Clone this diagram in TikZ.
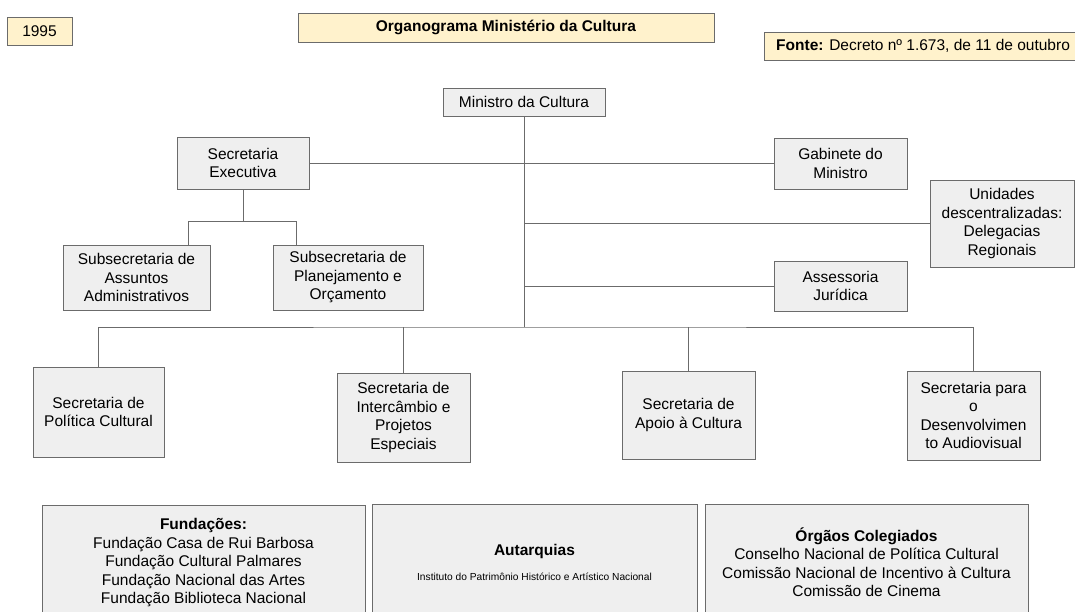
\documentclass[tikz,border=0pt]{standalone}
\usepackage{fontspec}
\setmainfont{Liberation Sans}
\usepackage{xcolor}
\usepackage{tikz}
\usetikzlibrary{positioning}

\definecolor{boxfill}{HTML}{EFEFEF}
\definecolor{boxline}{HTML}{6B6B6B}
\definecolor{tagfill}{HTML}{FFF2CC}
\newcommand\orgfont{\fontsize{15.5}{18.5}\selectfont}

\begin{document}
\begin{tikzpicture}[
    x=1pt, y=-1pt,
    box/.style={rectangle, draw=boxline, fill=boxfill, align=center,
                inner sep=0pt, font=\orgfont},
    tag/.style={rectangle, draw=boxline, fill=tagfill, align=center,
                inner sep=0pt, font=\orgfont},
    link/.style={draw=boxline, line width=0.9pt}
]
\useasboundingbox (0,0) rectangle (1075,612);

% header
\node[tag, minimum width=65pt, minimum height=28pt] (ano) at (39.5,31) {1995};
\node[tag, minimum width=416pt, minimum height=29pt] (titulo) at (506,27.5) {\textbf{Organograma Ministério da Cultura}};
\node[tag, anchor=west, inner xsep=12pt, minimum height=28pt] (fonte) at (764,46) {\textbf{Fonte:} Decreto nº 1.673, de 11 de outubro};

% ministro and staff
\node[box, minimum width=162pt, minimum height=28pt] (min) at (524,102) {Ministro da Cultura};
\node[box, minimum width=132pt, minimum height=52pt] (secexec) at (243,163) {Secretaria\\Executiva};
\node[box, minimum width=133pt, minimum height=51pt] (gab) at (840.5,163.5) {Gabinete do\\Ministro};
\node[box, minimum width=144pt, minimum height=87pt] (unid) at (1002,223.5) {Unidades\\descentralizadas:\\Delegacias\\Regionais};
\node[box, minimum width=133pt, minimum height=50pt] (assess) at (840.5,286) {Assessoria\\Jurídica};
\node[box, minimum width=147pt, minimum height=65pt] (subadm) at (136.5,277.5) {Subsecretaria de\\Assuntos\\Administrativos};
\node[box, minimum width=150pt, minimum height=65pt] (subplan) at (348,277.5) {Subsecretaria de\\Planejamento e\\Orçamento};

% secretarias
\node[box, minimum width=131pt, minimum height=90pt] (spol) at (98.5,412) {Secretaria de\\Política Cultural};
\node[box, minimum width=133pt, minimum height=89pt] (sinter) at (403.5,417.5) {Secretaria de\\Intercâmbio e\\Projetos\\Especiais};
\node[box, minimum width=133pt, minimum height=88pt] (sapoio) at (688.5,415) {Secretaria de\\Apoio à Cultura};
\node[box, minimum width=133pt, minimum height=89pt] (saudio) at (973.5,415.5) {Secretaria para\\o\\Desenvolvimen\\to Audiovisual};

% entidades vinculadas
\node[box, minimum width=323pt, minimum height=116pt] (fund) at (203.5,563) {\textbf{Fundações:}\\Fundação Casa de Rui Barbosa\\Fundação Cultural Palmares\\Fundação Nacional das Artes\\Fundação Biblioteca Nacional};
\node[box, minimum width=325pt, minimum height=116pt] (autarq) at (534.5,562) {\textbf{Autarquias}\\[6.5pt]{\fontsize{10.2}{12}\selectfont Instituto do Patrimônio Histórico e Artístico Nacional}};
\node[box, minimum width=323pt, minimum height=116pt] (orgaos) at (866.5,562) {\textbf{Órgãos Colegiados}\\Conselho Nacional de Política Cultural\\Comissão Nacional de Incentivo à Cultura\\Comissão de Cinema};

% connectors
\coordinate (bus) at (524,327);
\coordinate (forkl) at (188,221);
\coordinate (forkr) at (296,221);
\draw[link] (min) -- (bus);
\draw[link] (secexec.east) -- (secexec.east -| gab.west);
\draw[link] (bus |- unid) -- (unid);
\draw[link] (bus |- assess) -- (assess);
\draw[link] (secexec) -- (secexec.south |- forkl);
\draw[link] (forkl |- subadm.north) -- (forkl) -- (forkr) -- (forkr |- subplan.north);
\draw[link] (spol.north) |- (bus) -| (saudio.north);
\draw[link] (sinter) -- (sinter.north |- bus);
\draw[link] (sapoio) -- (sapoio.north |- bus);
\end{tikzpicture}
\end{document}
